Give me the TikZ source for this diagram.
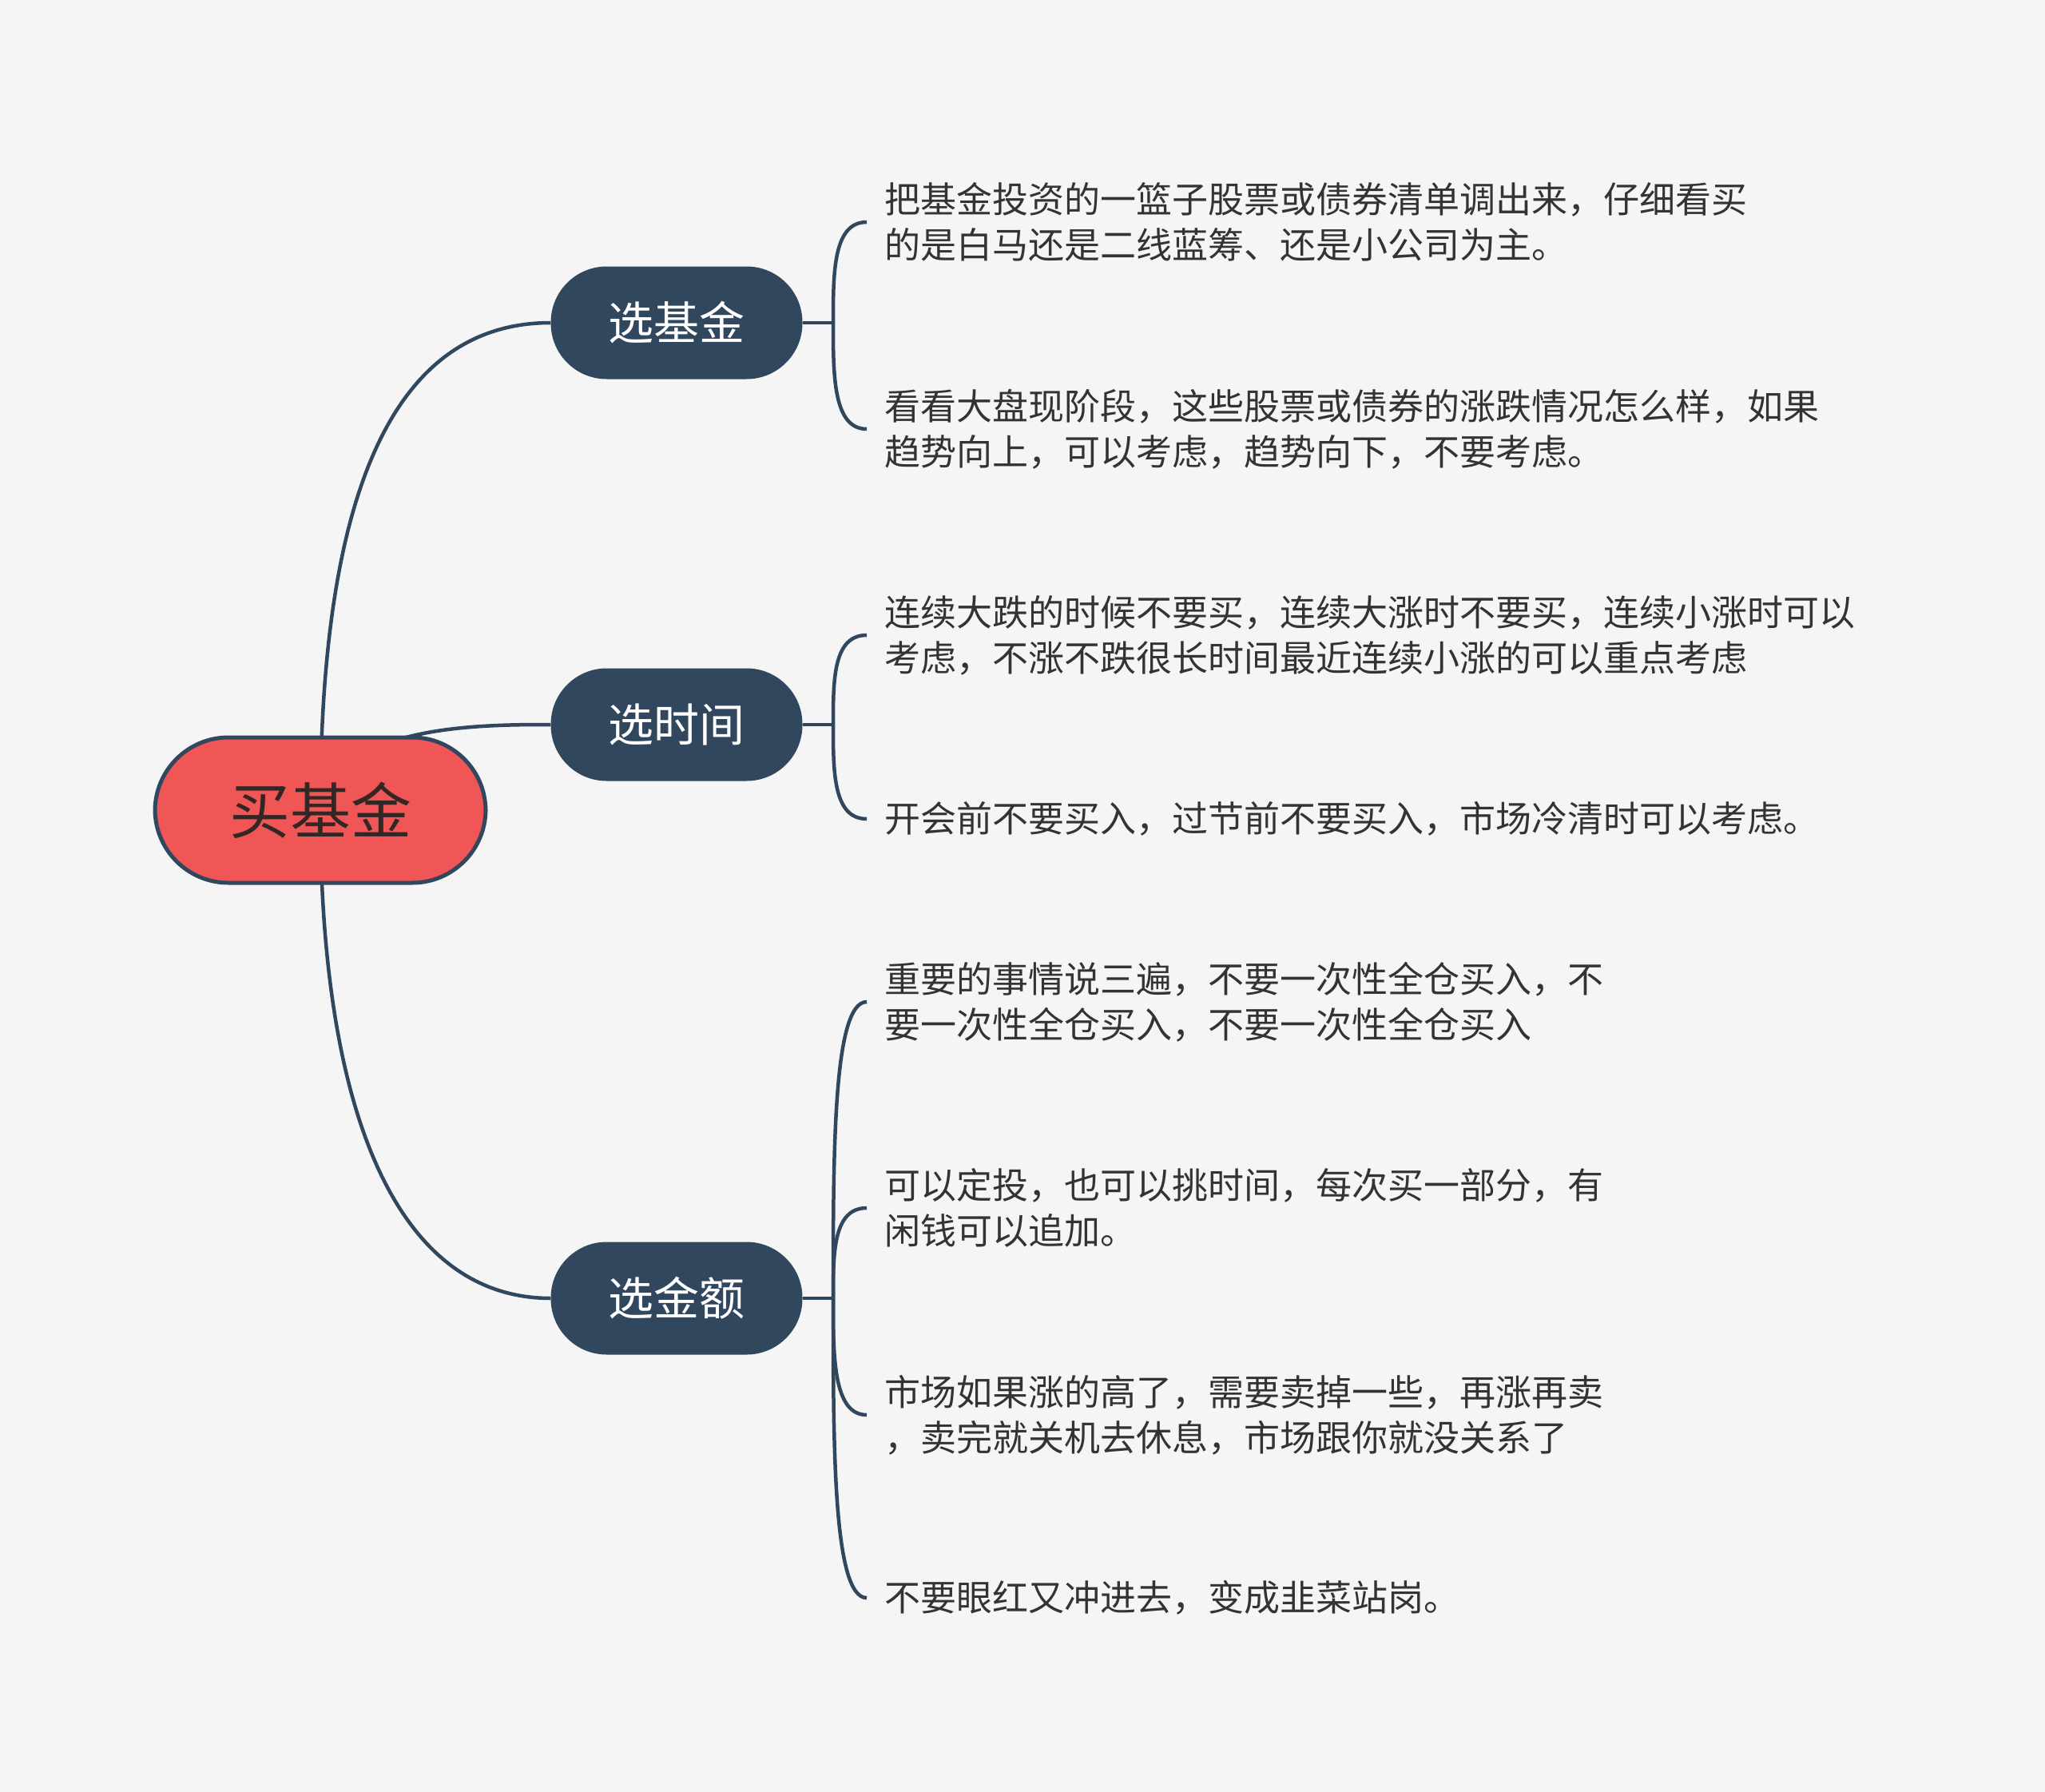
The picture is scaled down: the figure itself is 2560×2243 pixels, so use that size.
\documentclass[tikz,border=0pt]{standalone}
\usepackage{fontspec}
\setmainfont{Noto Sans CJK SC}
\definecolor{bgc}{HTML}{F5F5F5}
\definecolor{dk}{HTML}{30475E}
\definecolor{rootred}{HTML}{F05656}
\definecolor{roottxt}{HTML}{352626}
\definecolor{leaftxt}{HTML}{333333}
\pgfdeclarelayer{backfill}
\pgfdeclarelayer{bglayer}
\pgfsetlayers{backfill,bglayer,main}
\tikzset{
  rootbox/.style={rounded corners=92pt, minimum width=414pt, minimum height=182pt, fill=rootred, draw=dk, line width=5pt, text=roottxt, font=\fontsize{76}{90}\selectfont, inner sep=0pt},
  branchbox/.style={rounded corners=70pt, minimum width=315pt, minimum height=141pt, fill=dk, text=white, font=\fontsize{57}{68}\selectfont, inner sep=0pt},
  leafbox/.style={anchor=west, inner xsep=22pt, inner ysep=0pt, align=left, text=leaftxt, font=\fontsize{45}{57}\selectfont},
  conn/.style={draw=dk, line width=4.5pt},
}
\begin{document}
\begin{tikzpicture}[x=1pt, y=-1pt]
\begin{pgfonlayer}{backfill}
\fill[bgc] (0,0) rectangle (2560,2243);
\end{pgfonlayer}
\useasboundingbox (0,0) rectangle (2560,2243);

\node[rootbox] (root) at (401,1014) {买基金};
\node[branchbox] (b1) at (847,404) {选基金};
\node[branchbox] (b2) at (847,907) {选时间};
\node[branchbox] (b3) at (847,1625) {选金额};

\coordinate (s1) at (1043,404);
\coordinate (s2) at (1043,907);
\coordinate (s3) at (1043,1625);

\node[leafbox] (l11) at (1085,278) {把基金投资的一篮子股票或债券清单调出来，仔细看买\\的是白马还是二线蓝筹、还是小公司为主。};
\node[leafbox] (l12) at (1085,537) {看看大盘现阶段，这些股票或债券的涨跌情况怎么样，如果\\趋势向上，可以考虑，趋势向下，不要考虑。};
\node[leafbox] (l21) at (1085,795) {连续大跌的时候不要买，连续大涨时不要买，连续小涨时可以\\考虑，不涨不跌很长时间最近连续小涨的可以重点考虑};
\node[leafbox] (l22) at (1085,1025) {开会前不要买入，过节前不要买入，市场冷清时可以考虑。};
\node[leafbox] (l31) at (1085,1254) {重要的事情说三遍，不要一次性全仓买入，不\\要一次性全仓买入，不要一次性全仓买入};
\node[leafbox] (l32) at (1085,1512) {可以定投，也可以挑时间，每次买一部分，有\\闲钱可以追加。};
\node[leafbox] (l33) at (1085,1771) {市场如果涨的高了，需要卖掉一些，再涨再卖\\，卖完就关机去休息，市场跟你就没关系了};
\node[leafbox] (l34) at (1085,2000) {不要眼红又冲进去，变成韭菜站岗。};

\begin{pgfonlayer}{bglayer}
\draw[conn] (root.center) .. controls (401,600) and (500,404) .. (b1.west);
\draw[conn] (root.center) .. controls (420,907) and (600,907) .. (b2.west);
\draw[conn] (root.center) .. controls (401,1400) and (500,1625) .. (b3.west);
\draw[conn] (b1.east) -- (s1);
\draw[conn] (b2.east) -- (s2);
\draw[conn] (b3.east) -- (s3);
\draw[conn] (s1) .. controls (1043,341) and (1043,278) .. (l11.west);
\draw[conn] (s1) .. controls (1043,470) and (1043,537) .. (l12.west);
\draw[conn] (s2) .. controls (1043,851) and (1043,795) .. (l21.west);
\draw[conn] (s2) .. controls (1043,966) and (1043,1025) .. (l22.west);
\draw[conn] (s3) .. controls (1043,1440) and (1043,1254) .. (l31.west);
\draw[conn] (s3) .. controls (1043,1568) and (1043,1512) .. (l32.west);
\draw[conn] (s3) .. controls (1043,1698) and (1043,1771) .. (l33.west);
\draw[conn] (s3) .. controls (1043,1812) and (1043,2000) .. (l34.west);
\end{pgfonlayer}
\end{tikzpicture}
\end{document}
